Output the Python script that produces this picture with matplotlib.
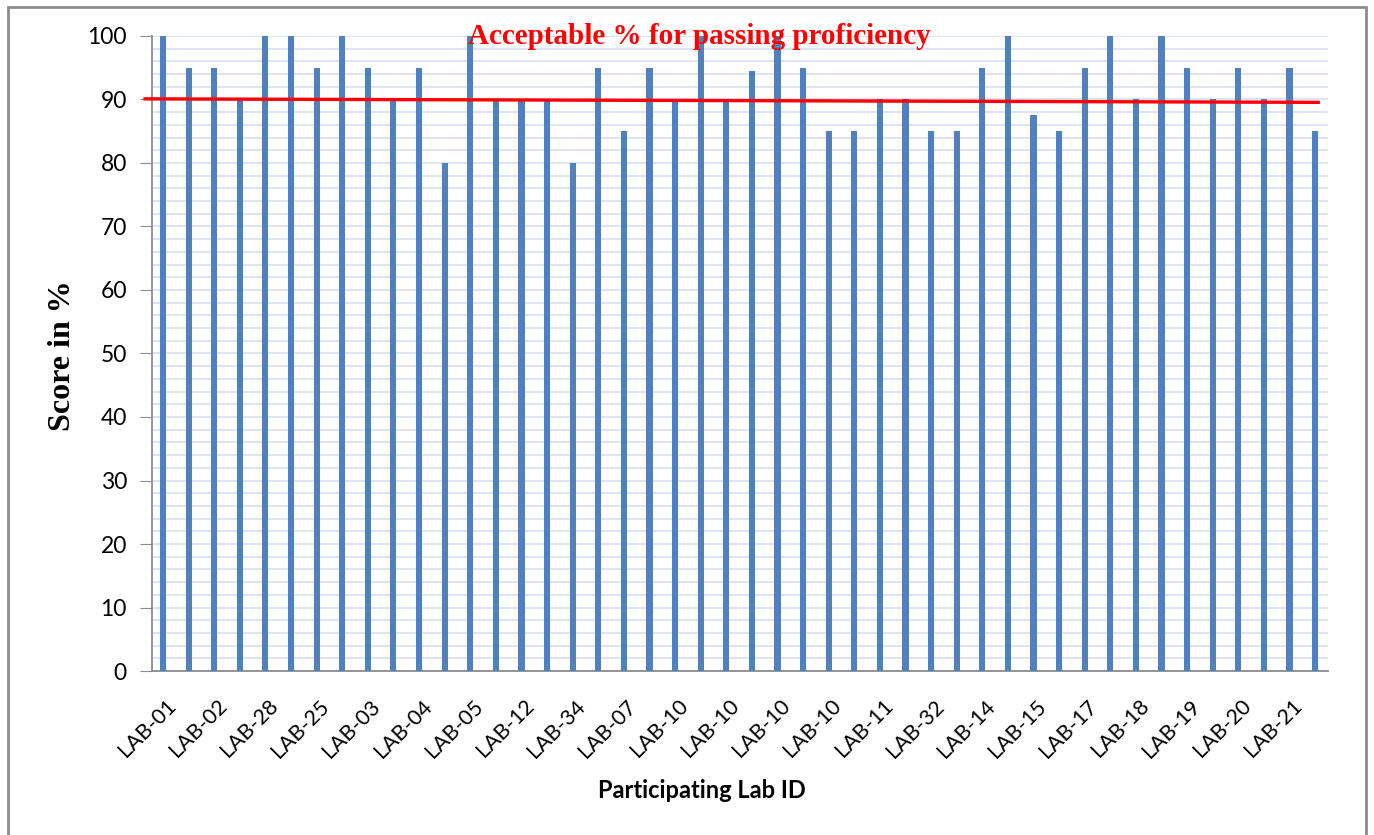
import numpy as np
import matplotlib.pyplot as plt
from matplotlib.patches import Rectangle

# one score per lab, in plotted order
scores = [100, 95, 95, 90, 100, 100, 95, 100, 95, 90, 95, 80, 100, 90, 90, 90,
          80, 95, 85, 95, 90, 100, 90, 94.5, 100, 95, 85, 85, 90, 90, 85, 85,
          95, 100, 87.5, 85, 95, 100, 90, 100, 95, 90, 95, 90, 95, 85]
# only every other bar carries a label
tick_labels = ['LAB-01', 'LAB-02', 'LAB-28', 'LAB-25', 'LAB-03', 'LAB-04',
               'LAB-05', 'LAB-12', 'LAB-34', 'LAB-07', 'LAB-10', 'LAB-10',
               'LAB-10', 'LAB-10', 'LAB-11', 'LAB-32', 'LAB-14', 'LAB-15',
               'LAB-17', 'LAB-18', 'LAB-19', 'LAB-20', 'LAB-21']
# hand drawn pass line, ends
pass_x = [-0.7, 45.12]
pass_y = [90.1, 89.55]

fig = plt.figure(figsize=(13.74, 8.35), dpi=100)
ax = fig.add_axes([0.1106, 0.1964, 0.8559, 0.7605])

x = np.arange(len(scores))
ax.bar(x, scores, width=0.24, color='#4f81bd', zorder=3)

ax.set_xlim(-0.43, 45.5)
ax.set_ylim(0, 100)
ax.set_yticks(np.arange(0, 101, 10))
ax.set_yticks(np.arange(0, 101, 2), minor=True)
ax.grid(axis='y', which='both', color='#d6def0', linewidth=1.2, zorder=0)

ax.set_xticks(x[::2] + 0.1)
ax.set_xticklabels(tick_labels, rotation=45, ha='right', rotation_mode='anchor',
                   family='Lato', fontsize=15.5)
ax.tick_params(axis='x', length=0, pad=18)
ax.tick_params(axis='y', which='major', length=9, color='#8c8c8c', labelsize=16.5,
               pad=9)
ax.tick_params(axis='y', which='minor', length=0)
for lab in ax.get_yticklabels():
    lab.set_family('Lato')

for s in ['top', 'right']:
    ax.spines[s].set_visible(False)
for s in ['left', 'bottom']:
    ax.spines[s].set_color('#8c8c8c')
    ax.spines[s].set_linewidth(1.3)

ax.plot(pass_x, pass_y, color='#ff0000', linewidth=2.4, clip_on=False, zorder=5)
fig.text(699 / 1374, 1 - 36 / 835, 'Acceptable % for passing proficiency',
         ha='center', va='center', color='#ff0000', family='Liberation Serif',
         fontweight='bold', fontsize=21, zorder=6)

fig.text(62 / 1374, 1 - 356 / 835, 'Score in %', rotation=90, ha='center',
         va='center', family='Liberation Serif', fontweight='bold', fontsize=23)
fig.text(702 / 1374, 1 - 790 / 835, 'Participating Lab ID', ha='center',
         va='center', family='Lato', fontweight='bold', fontsize=17)

# outer frame, bottom edge runs off the page
fig.patches.append(Rectangle((8 / 1374, -0.1), 1358 / 1374, 1.1 - 7 / 835,
                             transform=fig.transFigure, fill=False,
                             edgecolor='#8c8c8c', linewidth=2))

fig.savefig('out.png', dpi=100)
